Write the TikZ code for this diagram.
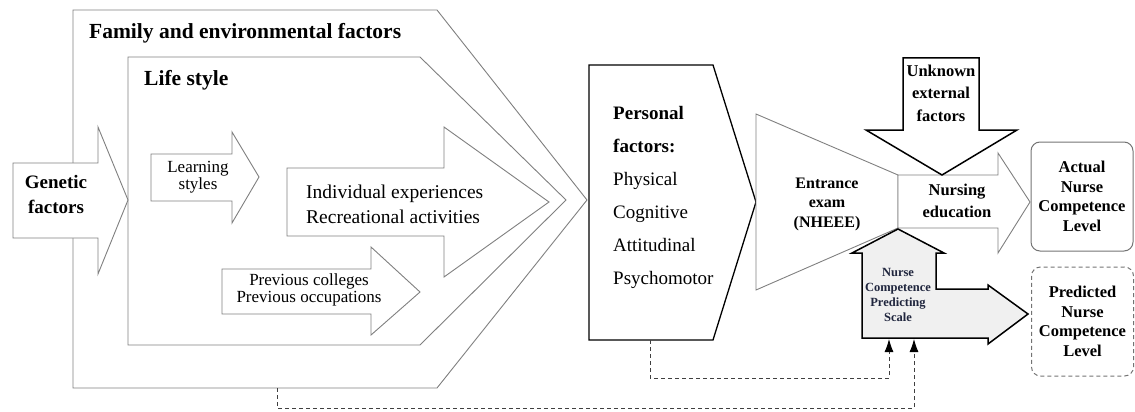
\documentclass[tikz,border=0pt]{standalone}
\usepackage{fontspec}
\setmainfont{Liberation Serif}
\usetikzlibrary{arrows.meta,calc}
\definecolor{scaletext}{RGB}{32,38,62}

\begin{document}
\begin{tikzpicture}[x=1pt, y=-1pt]
\tikzstyle{thin}=[draw=black!50, line width=0.9pt, fill=white]
\tikzstyle{heavy}=[draw=black, line width=1.5pt, fill=white]
\tikzstyle{label}=[inner sep=0pt, align=center]
\tikzstyle{title}=[label, anchor=west, font=\bfseries\fontsize{21.5}{24}\selectfont]
\tikzstyle{small}=[label, font=\bfseries\fontsize{16.5}{20}\selectfont]
\tikzstyle{result}=[rectangle, rounded corners=9pt, draw=black!55, line width=1pt, minimum width=102pt, minimum height=109pt]
\tikzstyle{connect}=[-{Latex[length=13pt,width=9pt,black]}, draw=black!75, line width=0.9pt, dash pattern=on 4pt off 3pt]

\useasboundingbox (0,0) rectangle (1135,412);

% nested influences
\draw[thin] (73,10) -- (437,10) -- (587,200) -- (437,388) -- (73,388) -- cycle;
\draw[thin] (128,57) -- (420,57) -- (566,200) -- (420,345) -- (128,345) -- cycle;
\coordinate (familybot) at (277,388);

\node[title] (family) at (89,33) {Family and environmental factors};
\node[title] (lifestyle) at (144,80) {Life style};

% arrows inside life style
\draw[thin] (13,163) -- (98,163) -- (98,127) -- (128,200) -- (98,274) -- (98,238) -- (13,238) -- cycle;
\draw[thin] (151,154) -- (232,154) -- (232,132) -- (259,177) -- (232,223) -- (232,201) -- (151,201) -- cycle;
\draw[thin] (287,168) -- (444,168) -- (444,127) -- (549,202) -- (444,277) -- (444,236) -- (287,236) -- cycle;
\draw[thin] (222,269) -- (371,269) -- (371,247) -- (420,292) -- (371,335) -- (371,314) -- (222,314) -- cycle;

\node[label, font=\bfseries\fontsize{19}{25}\selectfont] (genetic) at (56,194) {Genetic\\factors};
\node[label, font=\fontsize{17}{17}\selectfont] (learning) at (198,177) {Learning\\styles};
\node[label, align=left, anchor=west, font=\fontsize{19.5}{25}\selectfont] (individual) at (306,204) {Individual experiences\\Recreational activities};
\node[label, font=\fontsize{17}{17}\selectfont] (previous) at (309,290) {Previous colleges\\Previous occupations};

% personal factors
\draw[heavy, line width=1.3pt] (589,65) -- (713,65) -- (756,202) -- (713,340) -- (589,340) -- cycle;
\coordinate (personalbot) at (650,340);
\node[label, align=left, anchor=west, font=\fontsize{19}{33}\selectfont] (personal) at (613,197)
  {\textbf{Personal}\\\textbf{factors:}\\Physical\\Cognitive\\Attitudinal\\Psychomotor};

% entrance exam and nursing education
\draw[thin] (756,114) -- (898,175) -- (898,228) -- (756,290) -- cycle;
\node[label, font=\bfseries\fontsize{16}{19.5}\selectfont] (entrance) at (827,204) {Entrance\\exam\\(NHEEE)};

\draw[thin] (898,175) -- (998,175) -- (998,153) -- (1030,202) -- (998,253) -- (998,228) -- (898,228) -- cycle;
\node[small, font=\bfseries\fontsize{16.5}{22}\selectfont] (nursing) at (957,201) {Nursing\\education};

\draw[heavy] (903,58) -- (979,58) -- (979,130) -- (1017,130) -- (942,175) -- (866,130) -- (903,130) -- cycle;
\node[small, font=\bfseries\fontsize{16.5}{22.5}\selectfont] (unknown) at (941,93) {Unknown\\external\\factors};

% outcomes
\node[result, font=\bfseries\fontsize{16.5}{19.7}\selectfont, align=center] (actual) at (1082,196.5) {Actual\\Nurse\\Competence\\Level};
\node[result, dash pattern=on 4pt off 3pt, font=\bfseries\fontsize{16.5}{19.7}\selectfont, align=center] (predicted) at (1082.5,321.5) {Predicted\\Nurse\\Competence\\Level};

% predicting scale
\draw[heavy, fill=black!6] (898,229) -- (944,253) -- (936,253) -- (936,289) -- (988,289) -- (988,285) -- (1028,314)
  -- (988,344) -- (988,338) -- (862,338) -- (862,253) -- (852,253) -- cycle;
\coordinate (scalein) at (889,339);
\coordinate (scaleout) at (914,339);
\node[label, text=scaletext, font=\bfseries\fontsize{12.5}{15}\selectfont] (scale) at (898,295) {Nurse\\Competence\\Predicting\\Scale};

\draw[connect] (personalbot) -- (650,378) -| (scalein);
\draw[connect] (familybot) -- (277,408) -| (scaleout);

\end{tikzpicture}
\end{document}
